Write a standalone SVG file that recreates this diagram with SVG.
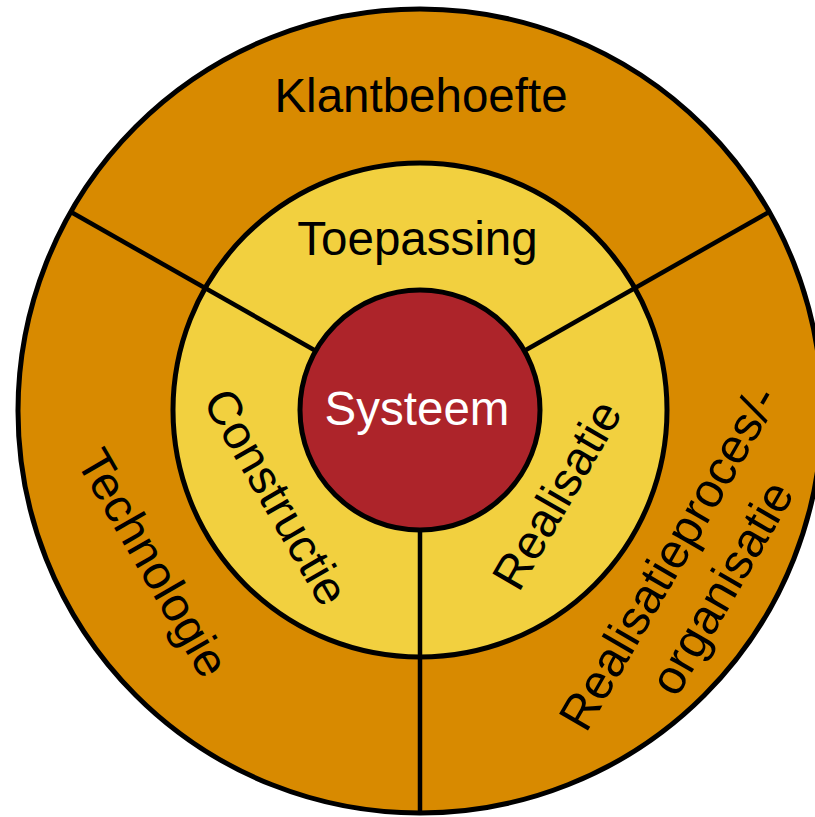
<svg xmlns="http://www.w3.org/2000/svg" width="815" height="817" viewBox="0 0 815 817">
  <style>
    .ring { stroke: #000; stroke-width: 5; }
    .outer { fill: #D88A00; }
    .middle { fill: #F2D03F; }
    .core { fill: #AD242A; }
    .div { stroke: #000; stroke-width: 4.5; fill: none; }
    text { font-family: "Liberation Sans", Arial, sans-serif; font-size: 47.5px; text-anchor: middle; fill: #000; }
    .white { fill: #fff; }
  </style>
  <rect width="815" height="817" fill="#fff"/>
  <g id="ring-outer">
    <circle class="ring outer" cx="420" cy="411" r="402"/>
  </g>
  <g id="ring-middle">
    <circle class="ring middle" cx="420" cy="410" r="247"/>
  </g>
  <g id="connectors">
    <line class="div" x1="420" y1="410" x2="71" y2="212"/>
    <line class="div" x1="420" y1="410" x2="769" y2="212"/>
    <line class="div" x1="420" y1="410" x2="420" y2="815"/>
  </g>
  <g id="core">
    <circle class="ring core" cx="420" cy="410" r="120"/>
    <text class="white" x="417" y="425">Systeem</text>
  </g>
  <g id="klantbehoefte">
    <text x="421" y="112">Klantbehoefte</text>
  </g>
  <g id="toepassing">
    <text x="417.5" y="255">Toepassing</text>
  </g>
  <g id="constructie">
    <text transform="translate(262 505) rotate(60)">Constructie</text>
  </g>
  <g id="realisatie">
    <text transform="translate(571 503) rotate(-60)">Realisatie</text>
  </g>
  <g id="technologie">
    <text transform="translate(139 571) rotate(60)">Technologie</text>
  </g>
  <g id="realisatieproces">
    <text transform="translate(683 566) rotate(-60)" style="font-size:48.5px">Realisatieproces/-</text>
    <text transform="translate(736 596) rotate(-60)" style="font-size:48.5px">organisatie</text>
  </g>
</svg>
